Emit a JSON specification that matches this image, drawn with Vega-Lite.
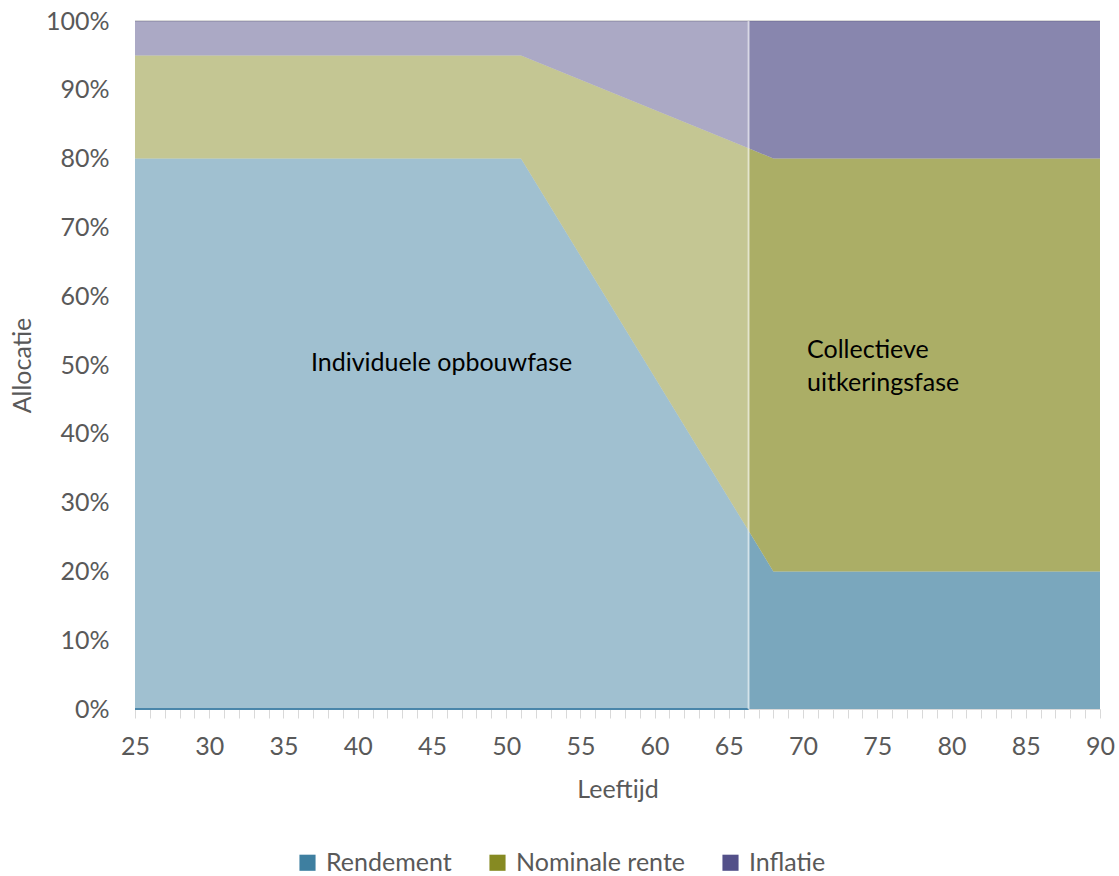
{
  "$schema": "https://vega.github.io/schema/vega-lite/v6.json",
  "width": 965,
  "height": 688,
  "autosize": {"type": "none"},
  "padding": {"left": 135, "top": 21, "right": 19, "bottom": 167},
  "background": "white",
  "config": {
    "view": {"stroke": null},
    "font": "Lato",
    "text": {"font": "Lato"},
    "legend": {"symbolOpacity": 1}
  },
  "datasets": {
    "allocatie": [
      {"fase": "opbouw", "leeftijd": 25, "reeks": "Rendement", "volgorde": 1, "waarde": 80},
      {"fase": "opbouw", "leeftijd": 51, "reeks": "Rendement", "volgorde": 1, "waarde": 80},
      {"fase": "opbouw", "leeftijd": 66.33, "reeks": "Rendement", "volgorde": 1, "waarde": 25.9},
      {"fase": "opbouw", "leeftijd": 25, "reeks": "Nominale rente", "volgorde": 2, "waarde": 15},
      {"fase": "opbouw", "leeftijd": 51, "reeks": "Nominale rente", "volgorde": 2, "waarde": 15},
      {"fase": "opbouw", "leeftijd": 66.33, "reeks": "Nominale rente", "volgorde": 2, "waarde": 55.6},
      {"fase": "opbouw", "leeftijd": 25, "reeks": "Inflatie", "volgorde": 3, "waarde": 5},
      {"fase": "opbouw", "leeftijd": 51, "reeks": "Inflatie", "volgorde": 3, "waarde": 5},
      {"fase": "opbouw", "leeftijd": 66.33, "reeks": "Inflatie", "volgorde": 3, "waarde": 18.5},
      {"fase": "uitkering", "leeftijd": 66.33, "reeks": "Rendement", "volgorde": 1, "waarde": 25.9},
      {"fase": "uitkering", "leeftijd": 68, "reeks": "Rendement", "volgorde": 1, "waarde": 20},
      {"fase": "uitkering", "leeftijd": 90, "reeks": "Rendement", "volgorde": 1, "waarde": 20},
      {"fase": "uitkering", "leeftijd": 66.33, "reeks": "Nominale rente", "volgorde": 2, "waarde": 55.6},
      {"fase": "uitkering", "leeftijd": 68, "reeks": "Nominale rente", "volgorde": 2, "waarde": 60},
      {"fase": "uitkering", "leeftijd": 90, "reeks": "Nominale rente", "volgorde": 2, "waarde": 60},
      {"fase": "uitkering", "leeftijd": 66.33, "reeks": "Inflatie", "volgorde": 3, "waarde": 18.5},
      {"fase": "uitkering", "leeftijd": 68, "reeks": "Inflatie", "volgorde": 3, "waarde": 20},
      {"fase": "uitkering", "leeftijd": 90, "reeks": "Inflatie", "volgorde": 3, "waarde": 20}
    ],
    "basislijn": [
      {"leeftijd": 25, "waarde": 0},
      {"leeftijd": 66.33, "waarde": 0}
    ],
    "bovenrand": [
      {"leeftijd": 25, "waarde": 100},
      {"leeftijd": 90, "waarde": 100}
    ],
    "overgang": [
      {"leeftijd": 66.33, "waarde": 0, "tot": 100}
    ],
    "fasen": [
      {"leeftijd": 36.85, "waarde": 50.3, "label": "Individuele opbouwfase"},
      {"leeftijd": 70.27, "waarde": 52.2, "label": "Collectieve\nuitkeringsfase"}
    ]
  },
  "encoding": {
    "x": {
      "field": "leeftijd", "type": "quantitative",
      "scale": {"domain": [25, 90], "nice": false, "zero": false},
      "axis": {
        "values": [25,26,27,28,29,30,31,32,33,34,35,36,37,38,39,40,41,42,43,44,45,46,47,48,49,50,51,52,53,54,55,56,57,58,59,60,61,62,63,64,65,66,67,68,69,70,71,72,73,74,75,76,77,78,79,80,81,82,83,84,85,86,87,88,89,90],
        "tickCount": 100,
        "format": "d",
        "labelExpr": "datum.value % 5 === 0 ? '' + datum.value : ''",
        "grid": false,
        "tickSize": 9,
        "tickColor": "#D9D9D9",
        "domainColor": "#D9D9D9",
        "labelFontSize": 25,
        "labelColor": "#595959",
        "labelPadding": 16,
        "labelFlush": false,
        "labelOverlap": false,
        "title": "Leeftijd",
        "titleFontSize": 25,
        "titleFontWeight": "normal",
        "titleColor": "#595959",
        "titlePadding": 18
      }
    }
  },
  "layer": [
    {
      "data": {"name": "bovenrand"},
      "mark": {"type": "line", "color": "#D9D9D9", "strokeWidth": 2},
      "encoding": {
        "y": {
          "field": "waarde", "type": "quantitative",
          "scale": {"domain": [0, 100], "nice": false},
          "axis": {
            "values": [0,10,20,30,40,50,60,70,80,90,100],
            "labelExpr": "datum.value + '%'",
            "ticks": false,
            "domain": false,
            "grid": false,
            "labelFontSize": 25,
            "labelColor": "#595959",
            "labelPadding": 26,
            "title": "Allocatie",
            "titleFontSize": 25,
            "titleFontWeight": "normal",
            "titleColor": "#595959",
            "titlePadding": 10
          }
        }
      }
    },
    {
      "data": {"name": "allocatie"},
      "transform": [{"filter": "datum.fase === 'opbouw'"}],
      "mark": {"type": "area", "opacity": 0.49},
      "encoding": {
        "y": {"field": "waarde", "type": "quantitative", "stack": "zero"},
        "color": {
          "field": "reeks", "type": "nominal",
          "scale": {"domain": ["Rendement", "Nominale rente", "Inflatie"], "range": ["#3E7FA0", "#868A22", "#535089"]},
          "legend": {
            "orient": "none",
            "legendX": 160,
            "legendY": 829,
            "direction": "horizontal",
            "title": null,
            "symbolType": "square",
            "symbolSize": 260,
            "symbolStrokeWidth": 0,
            "labelFontSize": 25,
            "labelColor": "#595959",
            "labelOffset": 6,
            "labelLimit": 400,
            "columnPadding": 33
          }
        },
        "order": {"field": "volgorde", "type": "quantitative"}
      }
    },
    {
      "data": {"name": "allocatie"},
      "transform": [{"filter": "datum.fase === 'uitkering'"}],
      "mark": {"type": "area", "opacity": 0.69},
      "encoding": {
        "y": {"field": "waarde", "type": "quantitative", "stack": "zero"},
        "color": {"field": "reeks", "type": "nominal"},
        "order": {"field": "volgorde", "type": "quantitative"}
      }
    },
    {
      "data": {"name": "basislijn"},
      "mark": {"type": "line", "color": "#4A86AA", "strokeWidth": 2},
      "encoding": {
        "y": {"field": "waarde", "type": "quantitative"}
      }
    },
    {
      "data": {"name": "overgang"},
      "mark": {"type": "rule", "color": "white", "opacity": 0.55, "strokeWidth": 2},
      "encoding": {
        "y": {"field": "waarde", "type": "quantitative"},
        "y2": {"field": "tot"}
      }
    },
    {
      "data": {"name": "fasen"},
      "mark": {"type": "text", "align": "left", "baseline": "middle", "fontSize": 25, "color": "#000000", "lineBreak": "\n", "lineHeight": 33},
      "encoding": {
        "y": {"field": "waarde", "type": "quantitative"},
        "text": {"field": "label", "type": "nominal"}
      }
    }
  ]
}
